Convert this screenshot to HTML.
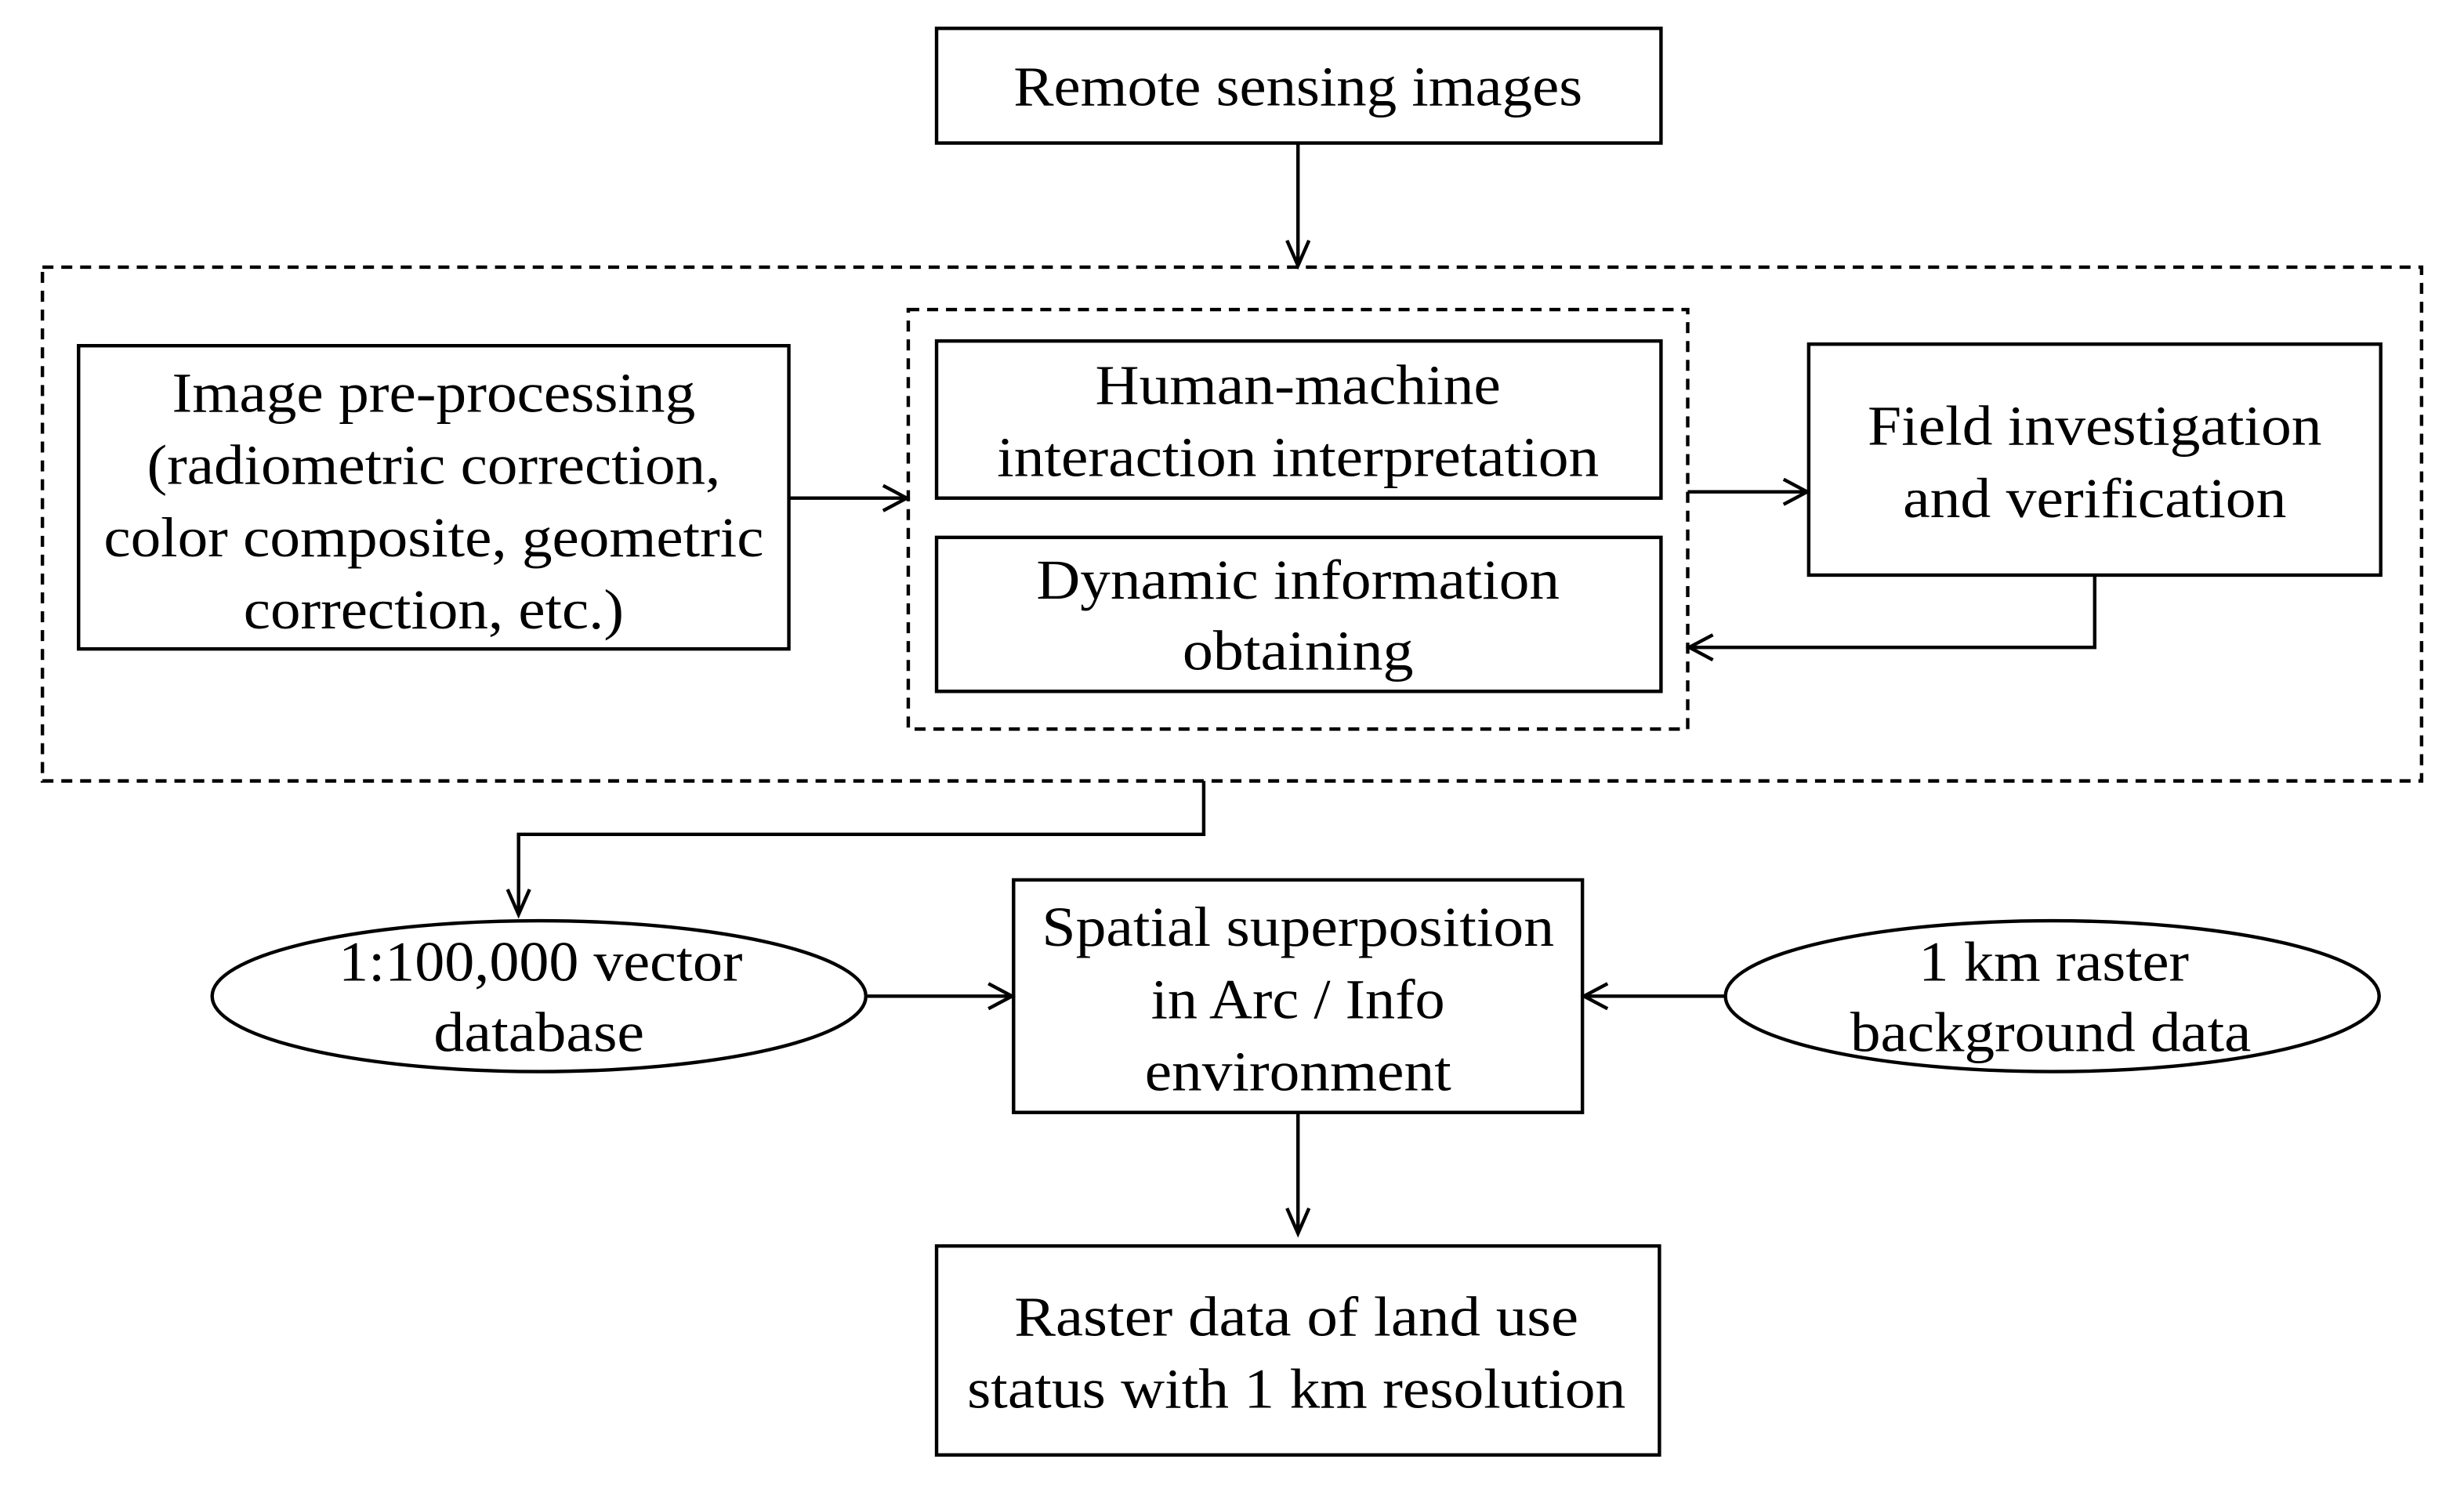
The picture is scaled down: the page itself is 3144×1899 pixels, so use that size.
<!DOCTYPE html>
<html><head><meta charset="utf-8"><style>
html,body{margin:0;padding:0;background:#fff;}
svg{display:block;}
text{font-family:"Liberation Serif",serif;font-size:36px;fill:#000;text-anchor:middle;}
</style></head><body>
<svg width="3144" height="1899" viewBox="0 0 1568 947" xmlns="http://www.w3.org/2000/svg">
<g fill="none" stroke="#000" stroke-width="2.2">
<rect x="596" y="18" width="461" height="73"/>
<rect x="27" y="170" width="1514" height="327" stroke-dasharray="7,5"/>
<rect x="50" y="220" width="452" height="193"/>
<rect x="578" y="197" width="496" height="267" stroke-dasharray="7,5"/>
<rect x="596" y="217" width="461" height="100"/>
<rect x="596" y="342" width="461" height="98"/>
<rect x="1151" y="219" width="364" height="147"/>
<ellipse cx="343" cy="634" rx="208" ry="48"/>
<rect x="645" y="560" width="362" height="148"/>
<ellipse cx="1306" cy="634" rx="208" ry="48"/>
<rect x="596" y="793" width="460" height="133"/>
<!-- connectors -->
<line x1="826" y1="91" x2="826" y2="169"/>
<polyline points="819,153 826,169 833,153"/>
<line x1="502" y1="317" x2="577" y2="317"/>
<polyline points="562,309 577,317 562,325"/>
<line x1="1074" y1="313" x2="1150" y2="313"/>
<polyline points="1135,305 1150,313 1135,321"/>
<polyline points="1333,366 1333,412 1075,412"/>
<polyline points="1090,404 1075,412 1090,420"/>
<polyline points="766,497 766,531 330,531 330,582"/>
<polyline points="323,566 330,582 337,566"/>
<line x1="552" y1="634" x2="644" y2="634"/>
<polyline points="629,626 644,634 629,642"/>
<line x1="1098" y1="634" x2="1008" y2="634"/>
<polyline points="1023,626 1008,634 1023,642"/>
<line x1="826" y1="708" x2="826" y2="785"/>
<polyline points="819,769 826,785 833,769"/>
</g>
<text x="826" y="67" textLength="362" lengthAdjust="spacingAndGlyphs">Remote sensing images</text>
<text x="276" y="262" textLength="333" lengthAdjust="spacingAndGlyphs">Image pre-processing</text>
<text x="276" y="308" textLength="365" lengthAdjust="spacingAndGlyphs">(radiometric correction,</text>
<text x="276" y="354" textLength="420" lengthAdjust="spacingAndGlyphs">color composite, geometric</text>
<text x="276" y="400" textLength="242" lengthAdjust="spacingAndGlyphs">correction, etc.)</text>
<text x="826" y="257" textLength="258" lengthAdjust="spacingAndGlyphs">Human-machine</text>
<text x="826" y="303" textLength="383" lengthAdjust="spacingAndGlyphs">interaction interpretation</text>
<text x="826" y="381" textLength="333" lengthAdjust="spacingAndGlyphs">Dynamic information</text>
<text x="826" y="426" textLength="147" lengthAdjust="spacingAndGlyphs">obtaining</text>
<text x="1333" y="283" textLength="289" lengthAdjust="spacingAndGlyphs">Field investigation</text>
<text x="1333" y="329" textLength="244" lengthAdjust="spacingAndGlyphs">and verification</text>
<text x="344" y="624" textLength="257" lengthAdjust="spacingAndGlyphs">1:100,000 vector</text>
<text x="343" y="669" textLength="134" lengthAdjust="spacingAndGlyphs">database</text>
<text x="826" y="602" textLength="326" lengthAdjust="spacingAndGlyphs">Spatial superposition</text>
<text x="826" y="648" textLength="187" lengthAdjust="spacingAndGlyphs">in Arc / Info</text>
<text x="826" y="694" textLength="195" lengthAdjust="spacingAndGlyphs">environment</text>
<text x="1307" y="624" textLength="172" lengthAdjust="spacingAndGlyphs">1 km raster</text>
<text x="1305" y="669" textLength="255" lengthAdjust="spacingAndGlyphs">background data</text>
<text x="825" y="850" textLength="359" lengthAdjust="spacingAndGlyphs">Raster data of  land use</text>
<text x="825" y="896" textLength="419" lengthAdjust="spacingAndGlyphs">status with 1 km resolution</text>
</svg>
</body></html>
